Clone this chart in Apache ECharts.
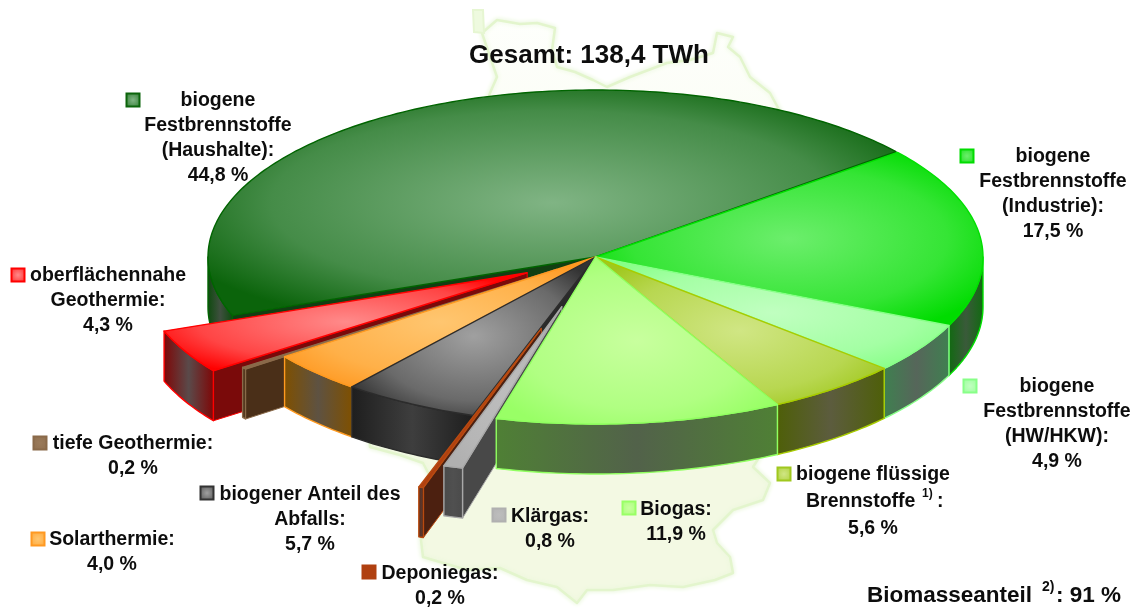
<!DOCTYPE html>
<html><head><meta charset="utf-8">
<style>html,body{margin:0;padding:0;background:#fff}#c{width:1135px;height:608px}</style>
<script src="https://cdn.jsdelivr.net/npm/echarts@6/dist/echarts.min.js"></script>
</head><body><div id="c"></div>
<script>
// ---- data, clockwise from the start angle ----
const categories = ['biogene Festbrennstoffe (Industrie)','biogene Festbrennstoffe (HW/HKW)','biogene flüssige Brennstoffe','Biogas','Klärgas','Deponiegas','biogener Anteil des Abfalls','Solarthermie','tiefe Geothermie','oberflächennahe Geothermie','biogene Festbrennstoffe (Haushalte)'];
const shares = [17.5, 4.9, 5.6, 11.9, 0.8, 0.2, 5.7, 4.0, 0.2, 4.3, 44.8];
const explode = [0, 0, 0, 0, 0.31, 0.45, 0, 0, 0.125, 0.20, 0];
const paintOrder = [10, 9, 8, 7, 6, 5, 4, 0, 1, 2, 3];
const labelLines = [
  ['biogene','Festbrennstoffe','(Industrie):'],
  ['biogene','Festbrennstoffe','(HW/HKW):'],
  ['biogene flüssige',''],
  ['Biogas:'],
  ['Klärgas:'],
  ['Deponiegas:'],
  ['biogener Anteil des','Abfalls:'],
  ['Solarthermie:'],
  ['tiefe Geothermie:'],
  ['oberflächennahe','Geothermie:'],
  ['biogene','Festbrennstoffe','(Haushalte):']
];
const titleText = 'Gesamt: 138,4 TWh';
const biomassText = 'Biomasseanteil';
const biomassValue = ': 91 %';

// ---- styling ----
const startAngle = 38.8;
const depth = 50 / 167;
const edge   = ['#00dc00','#88ff88','#a0c81e','#99ff66','#b0b0b0','#b04010','#333333','#ff9922','#8a6a4a','#ff0000','#0b640b'];
const centre = ['#6cee6c','#c0ffc0','#d0e684','#c8ff9e','#bdbdbd','#b04010','#a0a0a0','#ffc670','#9a7a5a','#ff8a8a','#80b484'];
const middle = ['#35e535','#a4ffa4','#b8d751','#b0ff82','#b6b6b6','#b04010','#6a6a6a','#ffb048','#927252','#ff4545','#458c48'];
const line   = ['#00e000','#88ff88','#a8cc00','#90ff60','#a8a8a8','#b84a10','#2c2c2c','#ff9a20','#8a6a4a','#ff0000','#006400'];
const wallEnd = ['#106a10','#3f8050','#4e5f08','#4f8035','#4a4a4a','#4c1c0c','#1e1e1e','#7f5000','#4a3018','#7f0606','#0c4a0c'];
const wallMid = ['#3a5a3a','#56665a','#5c5c3e','#52624a','#505050','#5a3a30','#3e3e3e','#5e5242','#4a3018','#5a4a4a','#3f4f3f'];
const radialWall = ['#106a10','#3f8050','#4e5f08','#4f8035','#484848','#4c2010','#2a2a2a','#7f5000','#4a2f18','#7a0a0a','#123f12'];
// label anchors: [marker x, marker y, text centre x, first line y, line gap]
const labelAnchors = [
  [967,156,1053,157,25],[970,386,1057,387,25],[784,474,873,475,27],[629,508,676,510,25],
  [499,515,550,517,25],[369,572,440,574,25],[207,493,310,495,25],[38,539,112,540,25],
  [40,443,133,444,25],[18,275,108,276,25],[133,100,218,101,25]
];
const font = 'bold 19.5px "Liberation Sans", Arial, sans-serif';

const pct = v => v.toFixed(1).replace('.', ',') + ' %';
const cum = []; shares.reduce((a, v, i) => (cum[i] = a, a + v), 0);
const rows = paintOrder.map(i => [cum[i], shares[i], explode[i], i]);

function radial(c0, cm, c1, r) {
  return {type:'radial', x:0.5, y:0.5, r:r, colorStops:[{offset:0,color:c0},{offset:0.68,color:cm},{offset:1,color:c1}]};
}

function renderSlice(params, api) {
  const from = api.value(0), share = api.value(1), ex = api.value(2), idx = api.value(3);
  const thS = startAngle - from * 3.6, thE = thS - share * 3.6;
  const thM = (thS + thE) / 2 * Math.PI / 180;
  const ox = ex * Math.cos(thM), oy = ex * Math.sin(thM);
  const P = (th, r, down) => api.coord([ox + r * Math.cos(th * Math.PI / 180), oy + r * Math.sin(th * Math.PI / 180) - (down ? depth : 0)]);
  const arc = (a, b, down) => {
    const n = Math.max(2, Math.ceil(Math.abs(a - b))), pts = [];
    for (let k = 0; k <= n; k++) pts.push(P(a + (b - a) * k / n, 1, down));
    return pts;
  };
  const children = [];
  // radial walls, only the ones that face the viewer
  const cosd = t => Math.cos(t * Math.PI / 180);
  [[thS, cosd(thS) < 0], [thE, cosd(thE) > 0]].forEach(([th, seen]) => {
    if (!seen) return;
    children.push({type:'polygon', shape:{points:[P(th,0,false),P(th,1,false),P(th,1,true),P(th,0,true)]},
      style:{fill:radialWall[idx], stroke:line[idx], lineWidth:1}});
  });
  // outer wall, only the part that faces the viewer
  const a = Math.min(thS, 0), b = Math.max(thE, -180);
  if (a > b) {
    children.push({type:'polygon', shape:{points:arc(a,b,false).concat(arc(a,b,true).reverse())},
      style:{fill:{type:'linear',x:0,y:0,x2:1,y2:0,colorStops:[{offset:0,color:wallEnd[idx]},{offset:0.5,color:wallMid[idx]},{offset:1,color:wallEnd[idx]}]},
      stroke:line[idx], lineWidth:1.4, lineJoin:'round'}});
  }
  // top face: the shape is squared up so the radial fill stretches to its box
  const top = [P(0,0,false)].concat(arc(thS,thE,false));
  const xs = top.map(p => p[0]), ys = top.map(p => p[1]);
  const x0 = Math.min(...xs), x1 = Math.max(...xs), y0 = Math.min(...ys), y1 = Math.max(...ys);
  const s = Math.max(1e-3, (y1 - y0) / Math.max(1e-3, x1 - x0)), my = (y0 + y1) / 2;
  children.push({type:'polygon', scaleY:s, originX:0, originY:my,
    shape:{points:top.map(p => [p[0], my + (p[1] - my) / s])},
    style:{fill:radial(centre[idx], middle[idx], edge[idx], 0.6), stroke:null}});
  children.push({type:'polygon', shape:{points:top}, style:{fill:null, stroke:line[idx], lineWidth:1.4, lineJoin:'round'}});
  return {type:'group', children};
}

// ---- decoration and text ----
const mapOutline = [[497,20],[520,24],[537,23],[555,28],[552,50],[557,67],[575,72],[593,80],[607,87],[630,77],[667,63],[690,60],[713,53],[717,33],[733,37],[728,47],[740,57],[750,77],[770,93],[790,130],[800,300],[770,440],[753,467],[770,483],[763,500],[733,510],[713,530],[717,543],[730,557],[733,573],[715,580],[683,587],[650,585],[613,590],[587,590],[577,603],[557,587],[527,580],[500,568],[467,570],[423,557],[421,540],[432,480],[423,463],[400,455],[370,447],[360,300],[480,120],[490,93],[497,77],[482,33]];
const mapIsland = [[473,10],[483,10],[484,33],[474,32]];
const g = [];
const mapFill = {type:'linear',x:0,y:0,x2:0,y2:1,colorStops:[{offset:0,color:'#feffFc'},{offset:0.2,color:'#fbfdf5'},{offset:0.75,color:'#f3f9e3'},{offset:1,color:'#f3f9e3'}]};
g.push({type:'polygon', z:0, shape:{points:mapOutline}, style:{fill:mapFill, stroke:'#e3f5cd', lineWidth:2.5, lineJoin:'round', shadowBlur:5, shadowColor:'#e8f6d8'}});
g.push({type:'polygon', z:0, shape:{points:mapIsland}, style:{fill:'#eefadf', stroke:'#e6f6d2', lineWidth:2}});

const addText = (text, x, y, align, f) => g.push({type:'text', z:10, x, y, style:{text, font:f || font, fill:'#0d0d0d', align:align || 'center', verticalAlign:'middle'}});
categories.forEach((name, i) => {
  const A = labelAnchors[i];
  g.push({type:'rect', z:10, shape:{x:A[0]-6.5, y:A[1]-6.5, width:13, height:13},
    style:{fill:radial(centre[i], middle[i], edge[i], 0.7), stroke:edge[i], lineWidth:2}});
  const L = labelLines[i];
  L.forEach((t, k) => { if (t) addText(t, A[2], A[3] + k * A[4]); });
  addText(pct(shares[i]), A[2], A[3] + L.length * A[4]);
});
addText('Brennstoffe', 806, 502, 'left');
addText('1)', 922, 494, 'left', 'bold 12px "Liberation Sans", Arial, sans-serif');
addText(':', 937, 502, 'left');
addText(titleText, 589, 56, 'center', 'bold 26px "Liberation Sans", Arial, sans-serif');
addText(biomassText, 867, 596, 'left', 'bold 22.5px "Liberation Sans", Arial, sans-serif');
addText('2)', 1042, 587, 'left', 'bold 14px "Liberation Sans", Arial, sans-serif');
addText(biomassValue, 1056, 596, 'left', 'bold 22.5px "Liberation Sans", Arial, sans-serif');

const chart = echarts.init(document.getElementById('c'), null, {renderer:'canvas'});
chart.setOption({
  animation:false,
  backgroundColor:'#ffffff',
  grid:{left:0,right:0,top:0,bottom:0},
  xAxis:{type:'value', show:false, min:-595.5/387.5, max:539.5/387.5},
  yAxis:{type:'value', show:false, min:-351/167, max:257/167},
  series:[{type:'custom', coordinateSystem:'cartesian2d', clip:false, z:2, silent:true, renderItem:renderSlice, data:rows,
    dimensions:['from','share','explode','index'], encode:{x:0,y:1}}],
  graphic:{elements:g}
});
</script></body></html>
